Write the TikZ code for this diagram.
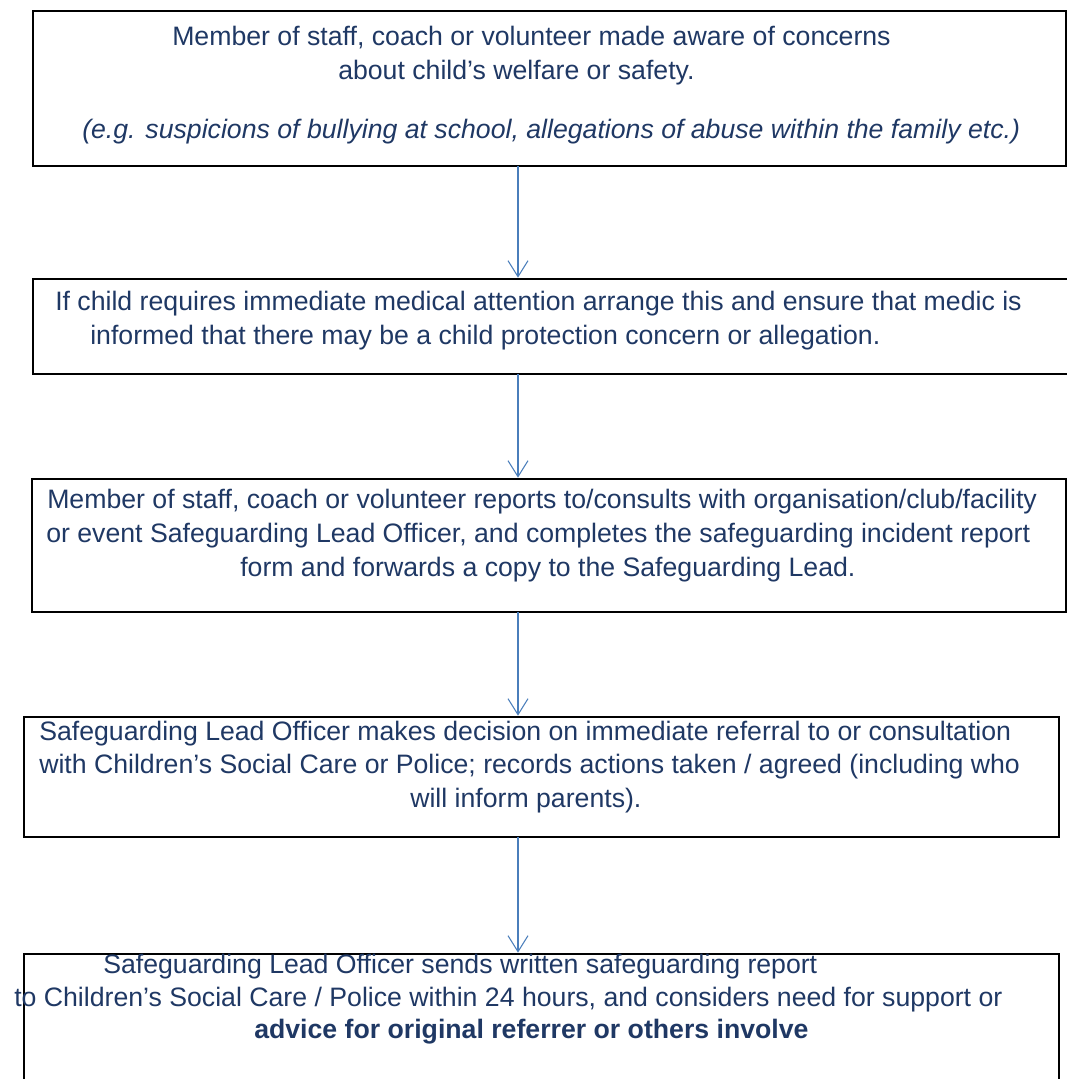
\documentclass[tikz,border=0pt]{standalone}
\usepackage{fontspec}
\setmainfont{Liberation Sans}
\usetikzlibrary{arrows.meta}
\definecolor{navy}{RGB}{31,56,100}
\definecolor{flowblue}{RGB}{74,126,187}
\begin{document}
\begin{tikzpicture}[x=0.75pt,y=-0.75pt,
  box/.style={draw=black,line width=1.2pt,inner sep=0pt,outer sep=0pt},
  txt/.style={anchor=base west,inner sep=0pt,text=navy,font=\fontsize{20}{24}\selectfont},
  flow/.style={draw=flowblue,line width=0.8pt,-{Straight Barb[length=12pt,width=15pt]},shorten >=1pt}]
  \useasboundingbox (0,0) rectangle (1067,1079);
  \clip (0,0) rectangle (1067,1079);
  \node[box,minimum width=774.75pt,minimum height=116.25pt] (box1) at (549.5,88.5) {};
  \node[box,minimum width=800.25pt,minimum height=71.25pt] (box2) at (566.5,326.5) {};
  \node[box,minimum width=775.5pt,minimum height=99.75pt] (box3) at (549,545.5) {};
  \node[box,minimum width=776.25pt,minimum height=90pt] (box4) at (541.5,777) {};
  \node[box,minimum width=776.25pt,minimum height=124.5pt] (box5) at (541.5,1037) {};
  \node[txt] (t11) at (172,45) {Member of staff, coach or volunteer made aware of concerns};
  \node[txt] (t12) at (338,79) {about child’s welfare or safety.};
  \node[txt,font=\fontsize{20}{24}\selectfont\itshape] (t13) at (82,138) {(e.g. suspicions of bullying at school, allegations of abuse within the family etc.)};
  \node[txt] (t21) at (55,310) {If child requires immediate medical attention arrange this and ensure that medic is};
  \node[txt] (t22) at (90,344) {informed that there may be a child protection concern or allegation.};
  \node[txt] (t31) at (47,508) {Member of staff, coach or volunteer reports to/consults with organisation/club/facility};
  \node[txt] (t32) at (46,542) {or event Safeguarding Lead Officer, and completes the safeguarding incident report};
  \node[txt] (t33) at (240,576) {form and forwards a copy to the Safeguarding Lead.};
  \node[txt] (t41) at (39,740) {Safeguarding Lead Officer makes decision on immediate referral to or consultation};
  \node[txt] (t42) at (39,773) {with Children’s Social Care or Police; records actions taken / agreed (including who};
  \node[txt] (t43) at (410,807) {will inform parents).};
  \node[txt] (t51) at (103,973) {Safeguarding Lead Officer sends written safeguarding report};
  \node[txt] (t52) at (14,1006) {to Children’s Social Care / Police within 24 hours, and considers need for support or};
  \node[txt,font=\fontsize{20}{24}\selectfont\bfseries] (t53) at (254,1038) {advice for original referrer or others involve};
  \coordinate (ax) at (518,0);
  \draw[flow] (box1.south -| ax) -- (box2.north -| ax);
  \draw[flow] (box2.south -| ax) -- (box3.north -| ax);
  \draw[flow] (box3.south -| ax) -- (box4.north -| ax);
  \draw[flow] (box4.south -| ax) -- (box5.north -| ax);
\end{tikzpicture}
\end{document}
